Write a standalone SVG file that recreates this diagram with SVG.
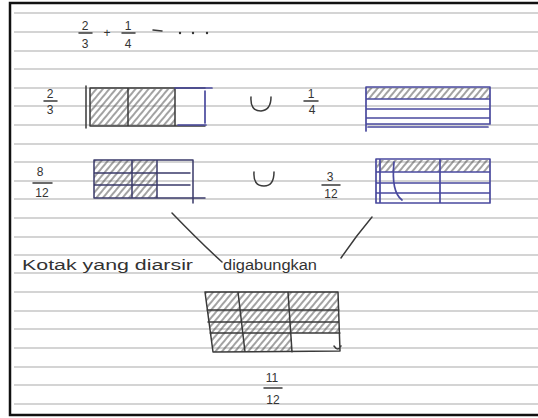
<svg xmlns="http://www.w3.org/2000/svg" width="538" height="418" viewBox="0 0 538 418">
<style>
.rule{stroke:#c6c6c6;stroke-width:1.4}
.ink{fill:none;stroke:#3a3a3a;stroke-width:1.5;stroke-linecap:round;stroke-linejoin:round}
.blue{fill:none;stroke:#4a4a9e;stroke-width:1.7;stroke-linecap:round;stroke-linejoin:round}
.hand{font-family:"Liberation Sans","DejaVu Sans",sans-serif;fill:#333;font-size:12px;text-anchor:middle}
.note{font-family:"Liberation Sans","DejaVu Sans",sans-serif;fill:#333;font-size:14px}
.frame{fill:none;stroke:#111;stroke-width:2.5}
</style>
<defs>
<pattern id="hatch" width="5" height="5" patternUnits="userSpaceOnUse" patternTransform="rotate(40)">
<line x1="1" y1="0" x2="1" y2="5" stroke="#555" stroke-width="1.1"/>
</pattern>
</defs>
<rect width="538" height="418" fill="#fff"/>
<g id="paper">
<line class="rule" x1="14" y1="13" x2="538" y2="13"/>
<line class="rule" x1="14" y1="32" x2="538" y2="32"/>
<line class="rule" x1="14" y1="51" x2="538" y2="51"/>
<line class="rule" x1="14" y1="69" x2="538" y2="69"/>
<line class="rule" x1="14" y1="88" x2="538" y2="88"/>
<line class="rule" x1="14" y1="106" x2="538" y2="106"/>
<line class="rule" x1="14" y1="125" x2="538" y2="125"/>
<line class="rule" x1="14" y1="144" x2="538" y2="144"/>
<line class="rule" x1="14" y1="162" x2="538" y2="162"/>
<line class="rule" x1="14" y1="181" x2="538" y2="181"/>
<line class="rule" x1="14" y1="199" x2="538" y2="199"/>
<line class="rule" x1="14" y1="218" x2="538" y2="218"/>
<line class="rule" x1="14" y1="237" x2="538" y2="237"/>
<line class="rule" x1="14" y1="255" x2="538" y2="255"/>
<line class="rule" x1="14" y1="273" x2="538" y2="273"/>
<line class="rule" x1="14" y1="292" x2="538" y2="292"/>
<line class="rule" x1="14" y1="311" x2="538" y2="311"/>
<line class="rule" x1="14" y1="329" x2="538" y2="329"/>
<line class="rule" x1="14" y1="348" x2="538" y2="348"/>
<line class="rule" x1="14" y1="367" x2="538" y2="367"/>
<line class="rule" x1="14" y1="385" x2="538" y2="385"/>
<line class="rule" x1="14" y1="404" x2="538" y2="404"/>
<path class="frame" d="M538,3 H10 V415 H538"/>
</g>
<g id="equation">
<text class="hand" x="85" y="30">2</text>
<line class="ink" x1="79" y1="33" x2="92" y2="33"/>
<text class="hand" x="85" y="48">3</text>
<text class="hand" x="107" y="37">+</text>
<text class="hand" x="128" y="30">1</text>
<line class="ink" x1="122" y1="33" x2="135" y2="33"/>
<text class="hand" x="128" y="48">4</text>
<line class="ink" x1="153" y1="30" x2="162" y2="31"/>
<circle cx="180" cy="33" r="1.2" fill="#333"/>
<circle cx="193" cy="33" r="1.2" fill="#333"/>
<circle cx="207" cy="33" r="1.2" fill="#333"/>
</g>
<g id="frac-2-3">
<text class="hand" x="50" y="98">2</text>
<line class="ink" x1="44" y1="101" x2="57" y2="101"/>
<text class="hand" x="50" y="114">3</text>
<rect x="90" y="89" width="85" height="36" fill="url(#hatch)"/>
<path class="ink" d="M86,86 V128 M90,88 H205 M90,88 V126 H205 M128,88 V126 M175,88 V126"/>
<path class="blue" d="M175,88 H212 M205,91 V123 M178,125 H206"/>
</g>
<g id="union-1">
<path class="ink" d="M251,97 Q250,111 261,111 Q271,110 271,97"/>
</g>
<g id="frac-1-4">
<text class="hand" x="311" y="98">1</text>
<line class="ink" x1="304" y1="101" x2="318" y2="101"/>
<text class="hand" x="312" y="114">4</text>
<rect x="366" y="88" width="124" height="11" fill="url(#hatch)"/>
<path class="blue" d="M366,87 H490 V124 H366 Z M366,87 V131 M366,99 H490 M366,109 H490 M366,118 H490 M368,127 H488"/>
</g>
<g id="frac-8-12">
<text class="hand" x="40" y="176">8</text>
<line class="ink" x1="33" y1="183" x2="52" y2="183"/>
<text class="hand" x="42" y="197">12</text>
<rect x="94" y="160" width="63" height="38" fill="url(#hatch)"/>
<path class="ink" d="M94,160 H193 V203 M94,160 V198 H205 M132,160 V198 M157,160 V198 M94,173 H190 M94,185 H190" style="stroke:#3a3a6a"/>
</g>
<g id="union-2">
<path class="ink" d="M254,172 Q253,186 264,186 Q274,186 274,172"/>
</g>
<g id="frac-3-12">
<text class="hand" x="330" y="181">3</text>
<line class="ink" x1="322" y1="185" x2="340" y2="185"/>
<text class="hand" x="331" y="198">12</text>
<rect x="377" y="160" width="113" height="12" fill="url(#hatch)"/>
<path class="blue" d="M376,159 H490 V203 H376 Z M380,160 V202 M440,159 V203 M377,172 H490 M377,183 H490 M377,193 H490 M394,162 Q391,192 402,200"/>
</g>
<g id="connectors">
<path class="ink" d="M172,213 Q200,242 222,262"/>
<path class="ink" d="M372,217 Q356,236 341,258"/>
</g>
<g id="labels">
<text class="note" x="22" y="270" textLength="171" lengthAdjust="spacingAndGlyphs">Kotak yang diarsir</text>
<text class="note" x="223" y="270" textLength="94" lengthAdjust="spacingAndGlyphs">digabungkan</text>
</g>
<g id="result">
<path d="M205,292 H338 L339.6,333 H291 L292,352 H213 Z" fill="url(#hatch)"/>
<path class="ink" d="M205,292 H338 L340,351 L213,352 Z M238,292 L245,352 M288,292 L292,352 M207,310 H339 M208,322 H339 M210,333 H340 M334,346 Q338,352 341,346"/>
<text class="hand" x="272" y="382">11</text>
<line class="ink" x1="264" y1="388" x2="282" y2="388"/>
<text class="hand" x="273" y="404">12</text>
</g>
</svg>
